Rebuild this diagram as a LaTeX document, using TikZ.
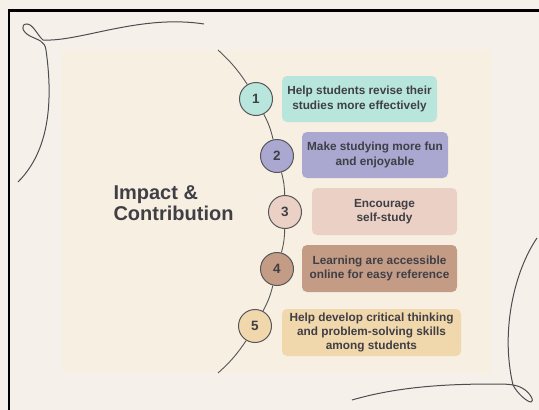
\documentclass[tikz,border=0pt]{standalone}
\usepackage{fontspec}
\setmainfont{Liberation Sans}
\definecolor{outerbg}{HTML}{F5F1EA}
\definecolor{innerbg}{HTML}{F7EFE1}
\definecolor{ink}{HTML}{3F3F45}
\definecolor{linec}{HTML}{55555A}
\definecolor{cA}{HTML}{B9E6DC}
\definecolor{cB}{HTML}{AAA7D0}
\definecolor{cC}{HTML}{EBD0C5}
\definecolor{cD}{HTML}{C49C86}
\definecolor{cE}{HTML}{F1D7AC}
\tikzset{
  numc/.style={circle, draw=linec, line width=1pt, minimum size=33pt, inner sep=0pt,
    font=\fontsize{13.5}{15}\selectfont\bfseries, text=ink},
  itembox/.style={rounded corners=5pt, align=center, inner sep=0pt,
    font=\fontsize{11.8}{14.6}\selectfont\bfseries, text=ink},
  arcline/.style={draw=linec, line width=0.9pt},
  deco/.style={draw=linec!90!black, line width=1pt}
}
\begin{document}
\begin{tikzpicture}[x=1pt,y=-1pt]
\useasboundingbox (0,0) rectangle (539,410);
\fill[outerbg] (0,0) rectangle (539,410);
\fill[innerbg] (62,50) rectangle (492,373);
% frame
\draw[black, line width=2.5pt] (9,410) -- (9,10.5) -- (539,10.5);
% decorative curves
\draw[deco] (204,24) .. controls (140,14) and (80,42) .. (43,40)
  .. controls (38,36) and (33,24) .. (27,24)
  .. controls (20,24) and (22,32) .. (30,36)
  .. controls (38,40) and (45,41) .. (46,50)
  .. controls (53,100) and (50,150) .. (18,182);
\draw[deco] (537,238) .. controls (515,270) and (500,330) .. (513,385)
  .. controls (517,393) and (527,402) .. (531,402)
  .. controls (535,402) and (530,392) .. (522,388)
  .. controls (515,384) and (505,384) .. (495,384)
  .. controls (450,384) and (400,386) .. (352,400);
% title
\node[anchor=west, align=left, text=ink, font=\fontsize{20}{21.5}\selectfont\bfseries] (title) at (110,203) {Impact \&\\Contribution};
% circles
\node[numc, fill=cA] (c1) at (256,99) {1};
\node[numc, fill=cB] (c2) at (277,156) {2};
\node[numc, fill=cC] (c3) at (285,212) {3};
\node[numc, fill=cD] (c4) at (277,269) {4};
\node[numc, fill=cE] (c5) at (255,326) {5};
\coordinate (top) at (218,50);
\coordinate (bot) at (218,373);
\draw[arcline] (top) to[bend left=7] (c1);
\draw[arcline] (c1) to[bend left=7] (c2);
\draw[arcline] (c2) to[bend left=7] (c3);
\draw[arcline] (c3) to[bend left=7] (c4);
\draw[arcline] (c4) to[bend left=7] (c5);
\draw[arcline] (c5) to[bend left=7] (bot);
% boxes
\node[itembox, fill=cA, minimum width=155pt, minimum height=46pt] (b1) at (359.5,99) {Help students revise their\\studies more effectively};
\node[itembox, fill=cB, minimum width=146pt, minimum height=46pt] (b2) at (375,155) {Make studying more fun\\and enjoyable};
\node[itembox, fill=cC, minimum width=145pt, minimum height=47pt] (b3) at (384.5,211.5) {Encourage\\self-study};
\node[itembox, fill=cD, minimum width=155pt, minimum height=47pt] (b4) at (379.5,268.5) {Learning are accessible\\online for easy reference};
\node[itembox, fill=cE, minimum width=179pt, minimum height=47pt, font=\fontsize{11.8}{14.2}\selectfont\bfseries] (b5) at (371.5,332.5) {Help develop critical thinking\\and problem-solving skills\\among students};
\end{tikzpicture}
\end{document}
